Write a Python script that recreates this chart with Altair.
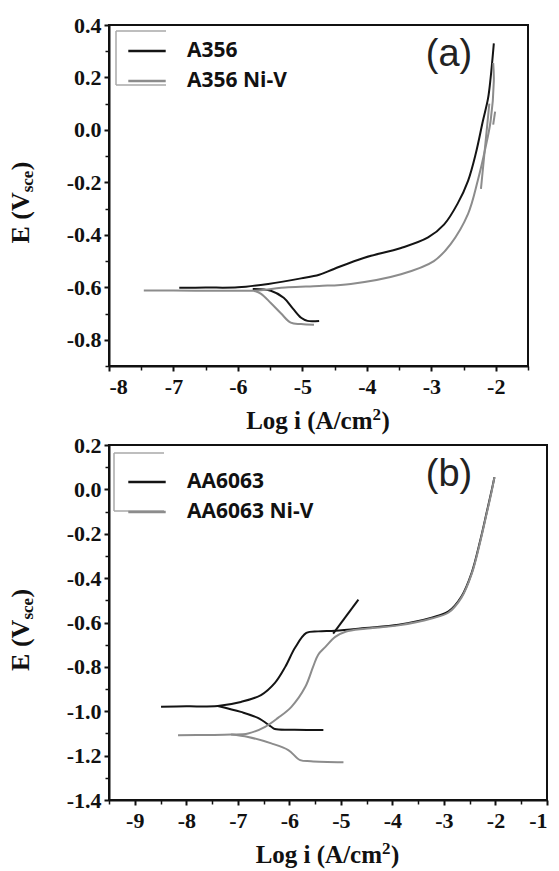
import altair as alt
import pandas as pd

BLACK = "#141414"
GRAY = "#8c8c8c"
SERIF = "Liberation Serif"
SANS = "Liberation Sans"

# ---------------- Panel (a) ----------------
A_SERIES = ["A356", "A356 Ni-V"]
# A356 (black)
a1_an_x = [-6.91, -6.5, -6.0, -5.53, -5.02, -4.74, -4.51, -4.05, -3.47, -3.05, -2.80, -2.59, -2.43, -2.31, -2.20, -2.12, -2.08, -2.03]
a1_an_y = [-0.602, -0.601, -0.600, -0.587, -0.566, -0.552, -0.530, -0.488, -0.450, -0.410, -0.360, -0.280, -0.194, -0.090, 0.034, 0.120, 0.198, 0.330]
a1_ca_x = [-5.77, -5.49, -5.29, -5.15, -5.02, -4.92, -4.74]
a1_ca_y = [-0.606, -0.613, -0.640, -0.680, -0.716, -0.728, -0.728]
# A356 Ni-V (gray)
a2_an_x = [-7.46, -7.0, -6.5, -6.0, -5.75, -5.22, -4.74, -4.25, -3.47, -2.96, -2.70, -2.43, -2.28, -2.16, -2.08, -2.03, -2.04]
a2_an_y = [-0.612, -0.612, -0.613, -0.613, -0.613, -0.600, -0.595, -0.587, -0.550, -0.500, -0.435, -0.320, -0.194, -0.068, 0.034, 0.187, 0.255]
a2_ca_x = [-5.75, -5.64, -5.49, -5.33, -5.18, -5.02, -4.82]
a2_ca_y = [-0.613, -0.625, -0.660, -0.700, -0.735, -0.740, -0.743]
a2_sp_x = [-2.10, -2.16, -2.23]
a2_sp_y = [0.10, -0.05, -0.225]
a2_sp2_x = [-2.04, -2.01]
a2_sp2_y = [0.02, 0.07]

A_XDOM = [-8, -1.5]
A_YDOM = [-0.9, 0.4]
A_XMAJ = [-8, -7, -6, -5, -4, -3, -2]
A_XMIN = [-7.5, -6.5, -5.5, -4.5, -3.5, -2.5, -1.5]
A_YMAJ = [-0.8, -0.6, -0.4, -0.2, 0.0, 0.2, 0.4]
A_YMIN = [-0.9, -0.7, -0.5, -0.3, -0.1, 0.1, 0.3]

# ---------------- Panel (b) ----------------
B_SERIES = ["AA6063", "AA6063 Ni-V"]
b1_an_x = [-8.49, -8.0, -7.39, -6.94, -6.55, -6.28, -6.08, -5.89, -5.67, -5.44, -5.11, -4.53, -3.88, -3.24, -2.91, -2.66, -2.46, -2.29, -2.17, -2.07, -2.02]
b1_an_y = [-0.980, -0.978, -0.976, -0.958, -0.927, -0.872, -0.800, -0.714, -0.647, -0.640, -0.637, -0.625, -0.610, -0.578, -0.550, -0.483, -0.375, -0.225, -0.103, 0.000, 0.055]
b1_ca_x = [-7.39, -6.94, -6.61, -6.35, -6.28, -5.90, -5.34]
b1_ca_y = [-0.976, -1.003, -1.030, -1.070, -1.080, -1.083, -1.085]
b1_sp_x = [-5.15, -4.66]
b1_sp_y = [-0.650, -0.497]
b2_an_x = [-8.16, -7.5, -7.13, -6.80, -6.47, -6.22, -5.96, -5.69, -5.54, -5.44, -5.30, -5.11, -4.91, -4.53, -3.88, -3.24, -2.91, -2.66, -2.46, -2.29, -2.17, -2.07, -2.02]
b2_an_y = [-1.108, -1.107, -1.105, -1.100, -1.070, -1.030, -0.980, -0.890, -0.800, -0.745, -0.710, -0.665, -0.642, -0.628, -0.613, -0.582, -0.555, -0.488, -0.380, -0.230, -0.108, -0.005, 0.055]
b2_ca_x = [-7.13, -6.80, -6.35, -6.02, -5.79, -5.58, -4.95]
b2_ca_y = [-1.105, -1.116, -1.145, -1.175, -1.220, -1.225, -1.230]

B_XDOM = [-9.5, -1]
B_YDOM = [-1.4, 0.2]
B_XMAJ = [-9, -8, -7, -6, -5, -4, -3, -2, -1]
B_XMIN = [-9.5, -8.5, -7.5, -6.5, -5.5, -4.5, -3.5, -2.5, -1.5]
B_YMAJ = [-1.4, -1.2, -1.0, -0.8, -0.6, -0.4, -0.2, 0.0, 0.2]
B_YMIN = [-1.3, -1.1, -0.9, -0.7, -0.5, -0.3, -0.1, 0.1]

Y_TITLE = ["E (V", "sce", ")"]
X_TITLE = ["Log i (A/cm", "2", ")"]
PANEL_LABELS = ["(a)", "(b)"]


def build_df(branches):
    rows = []
    for series, name, xs, ys in branches:
        for i, (x, y) in enumerate(zip(xs, ys)):
            rows.append({"series": series, "branch": name, "idx": i, "x": x, "y": y})
    return pd.DataFrame(rows)


df_a = build_df([
    ("A356", "a1an", a1_an_x, a1_an_y),
    ("A356", "a1ca", a1_ca_x, a1_ca_y),
    ("A356 Ni-V", "a2an", a2_an_x, a2_an_y),
    ("A356 Ni-V", "a2ca", a2_ca_x, a2_ca_y),
    ("A356 Ni-V", "a2sp", a2_sp_x, a2_sp_y),
    ("A356 Ni-V", "a2sp2", a2_sp2_x, a2_sp2_y),
])
df_b = build_df([
    ("AA6063", "b1an", b1_an_x, b1_an_y),
    ("AA6063", "b1ca", b1_ca_x, b1_ca_y),
    ("AA6063", "b1sp", b1_sp_x, b1_sp_y),
    ("AA6063 Ni-V", "b2an", b2_an_x, b2_an_y),
    ("AA6063 Ni-V", "b2ca", b2_ca_x, b2_ca_y),
])

XLAB = "datum.value < 0 ? '-' + format(-datum.value, 'd') : format(datum.value, 'd')"
YLAB = "datum.value < 0 ? '-' + format(-datum.value, '.1f') : format(datum.value, '.1f')"

ONE = pd.DataFrame({"k": [0]})


def txt(s, x, y, size, align="center", baseline="alphabetic", angle=0, font=SERIF, weight="bold", color="#111"):
    return alt.Chart(pd.DataFrame({"t": [s]})).mark_text(
        align=align, baseline=baseline, angle=angle, font=font,
        fontSize=size, fontWeight=weight, color=color
    ).encode(x=alt.value(x), y=alt.value(y), text="t:N")


def hrule(x, x2, y, color, width):
    return alt.Chart(ONE).mark_rule(color=color, strokeWidth=width).encode(
        x=alt.value(x), x2=alt.value(x2), y=alt.value(y))


def vrule(x, y, y2, color, width):
    return alt.Chart(ONE).mark_rule(color=color, strokeWidth=width).encode(
        x=alt.value(x), y=alt.value(y), y2=alt.value(y2))


def panel(df, series, xdom, ydom, xmaj, xmin, ymaj, ymin, w, h, label, legend_y, box):
    xs = alt.Scale(domain=xdom, nice=False, zero=False)
    ys = alt.Scale(domain=ydom, nice=False, zero=False)
    lines = alt.Chart(df).mark_line(strokeWidth=2, interpolate="catmull-rom").encode(
        x=alt.X("x:Q", scale=xs, axis=alt.Axis(
            values=xmaj, labelExpr=XLAB, title=None, grid=False, orient="bottom",
            labelFont=SERIF, labelFontSize=22, labelFontWeight="bold", labelColor="#111",
            tickSize=5, tickWidth=2, tickColor="#111", domainColor="#111", domainWidth=2,
            labelPadding=5)),
        y=alt.Y("y:Q", scale=ys, axis=alt.Axis(
            values=ymaj, labelExpr=YLAB, title=None, grid=False, orient="left",
            labelFont=SERIF, labelFontSize=22, labelFontWeight="bold", labelColor="#111",
            tickSize=5, tickWidth=2, tickColor="#111", domainColor="#111", domainWidth=2,
            labelPadding=3)),
        color=alt.Color("series:N", scale=alt.Scale(domain=series, range=[BLACK, GRAY]),
                        legend=alt.Legend(
                            title=None, orient="none", legendX=18, legendY=legend_y,
                            symbolType="stroke", symbolSize=1400, symbolStrokeWidth=2.5,
                            labelFont="Open Sans", labelFontSize=21, labelFontWeight="bold",
                            labelColor="#111", labelOffset=20, rowPadding=-15, padding=0)),
        detail="branch:N",
        order="idx:Q",
    )
    # top and right frame drawn as a polyline through the scale corners
    frame_df = pd.DataFrame({
        "x": [xdom[0], xdom[1], xdom[1]],
        "y": [ydom[1], ydom[1], ydom[0]],
        "o": [0, 1, 2],
    })
    frame = alt.Chart(frame_df).mark_line(color="#111", strokeWidth=2, clip=False).encode(
        x=alt.X("x:Q", scale=xs, axis=None),
        y=alt.Y("y:Q", scale=ys, axis=None),
        order="o:Q",
    )
    minor = alt.Chart(df).mark_point(opacity=0).encode(
        x=alt.X("x:Q", scale=xs, axis=alt.Axis(
            values=xmin, labels=False, domain=False, grid=False, title=None, orient="bottom",
            tickSize=4, tickWidth=1.5, tickColor="#111")),
        y=alt.Y("y:Q", scale=ys, axis=alt.Axis(
            values=ymin, labels=False, domain=False, grid=False, title=None, orient="left",
            tickSize=4, tickWidth=1.5, tickColor="#111")),
    )
    # legend bracket box
    bx0, bx1, by0, by1 = box
    g1 = hrule(bx0, bx1, by0, "#a8a8a8", 1.5)
    g2 = hrule(bx0, bx1, by1, "#a8a8a8", 1.5)
    g3 = vrule(bx0, by0, by1, "#a8a8a8", 1.5)
    # y title pieces (rotated)
    yc = h * 0.52
    y0 = yc - 10
    t1 = txt(Y_TITLE[0], -88, y0, 26, align="right", baseline="middle", angle=270)
    t2 = txt(Y_TITLE[1], -81, y0, 17, align="left", baseline="middle", angle=270)
    t3 = txt(Y_TITLE[2], -88, y0 - 22, 26, align="left", baseline="middle", angle=270)
    # x title pieces
    xc = w / 2
    xb = h + 63
    x1 = txt(X_TITLE[0], xc + 54, xb, 25, align="right")
    x2 = txt(X_TITLE[1], xc + 54, xb - 9, 17, align="left")
    x3 = txt(X_TITLE[2], xc + 63, xb, 25, align="left")
    lab = txt(label, 340, 41, 38, font=SANS, weight="normal", color="#222")
    return alt.layer(lines, frame, minor, g1, g2, g3,
                     t1, t2, t3, x1, x2, x3, lab).resolve_axis(
        x="independent", y="independent"
    ).properties(width=w, height=h)


top = panel(df_a, A_SERIES, A_XDOM, A_YDOM, A_XMAJ, A_XMIN, A_YMAJ, A_YMIN, 419, 341,
            PANEL_LABELS[0], 6, (7, 57, 6, 60))
bottom = panel(df_b, B_SERIES, B_XDOM, B_YDOM, B_XMAJ, B_XMIN, B_YMAJ, B_YMIN, 438, 355,
               PANEL_LABELS[1], 17, (5, 55, 8, 66))

chart = alt.vconcat(top, bottom, spacing=-2).resolve_scale(color="independent").properties(
    padding={"left": 7, "top": 13, "right": 0, "bottom": 0}, background="white"
).configure_view(stroke="#111", strokeWidth=2)

chart.save("out.html", embed_options={"renderer": "svg", "actions": False})
